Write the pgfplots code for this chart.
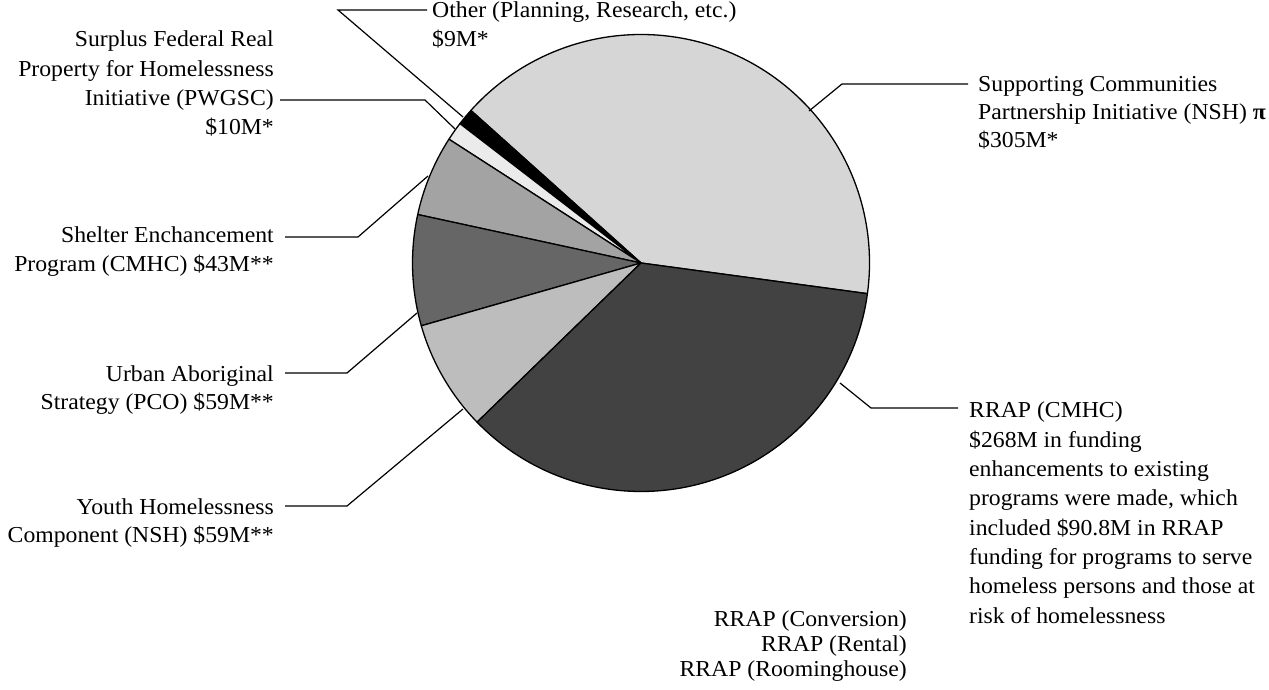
\documentclass[border=0pt]{standalone}
\usepackage{pgfplots}
\usepackage{pgfplotstable}
\pgfplotsset{compat=1.18}
\usepackage{fontspec}
\setmainfont[FakeStretch=1.04]{Liberation Serif}
\pgfplotstableread{
label value gray
Supporting 305 84
Other 9 0
Surplus 10 92
Shelter 43 64
Urban 59 40
Youth 59 74
RRAP 268 26
}\piedata
\begin{document}
\begin{tikzpicture}[font=\fontsize{22.8}{29.5}\selectfont]
\begin{axis}[at={(0,0)},anchor=south west,width=1269pt,height=690pt,scale only axis,
  xmin=0,xmax=1269,ymin=0,ymax=690,hide axis,clip=false]
\path (axis cs:0,0) rectangle (axis cs:1269,690);
\pgfplotsextra{%
  \gdef\pietotal{0}%
  \pgfplotstableforeachcolumnelement{value}\of\piedata\as\v{%
    \pgfmathsetmacro\t{\pietotal+\v}\global\let\pietotal\t}%
  \gdef\cur{-7.7}%
  \pgfplotstableforeachcolumnelement{value}\of\piedata\as\v{%
    \pgfplotstablegetelem{\pgfplotstablerow}{gray}\of\piedata
    \global\let\g\pgfplotsretval
    \pgfmathsetmacro\nxt{\cur+\v/\pietotal*360}%
    \filldraw[fill=white!\g!black,draw=black,line width=1.3pt,line join=round]
      (axis cs:641,427) -- ++(\cur:228.5pt) arc[start angle=\cur,end angle=\nxt,radius=228.5pt] -- cycle;
    \global\let\cur\nxt
  }%
}
% leader lines
\draw[line width=1.2pt] (axis cs:427,680)--(axis cs:338,680)--(axis cs:463,573);
\draw[line width=1.2pt] (axis cs:280,590)--(axis cs:425,590)--(axis cs:455,561);
\draw[line width=1.2pt] (axis cs:968,606)--(axis cs:842,606)--(axis cs:809,579);
\draw[line width=1.2pt] (axis cs:285,453)--(axis cs:358,453)--(axis cs:428,514);
\draw[line width=1.2pt] (axis cs:285,317)--(axis cs:347,317)--(axis cs:417,377);
\draw[line width=1.2pt] (axis cs:285,184)--(axis cs:347,184)--(axis cs:463,281);
\draw[line width=1.2pt] (axis cs:958,282)--(axis cs:871,282)--(axis cs:840,307);
% labels
\node[anchor=base west,inner sep=0] at (axis cs:432,672) {Other (Planning, Research, etc.)};
\node[anchor=base west,inner sep=0] at (axis cs:432,643) {\$9M*};
\node[anchor=base east,inner sep=0] at (axis cs:274,643) {Surplus Federal Real};
\node[anchor=base east,inner sep=0] at (axis cs:274,613) {Property for Homelessness};
\node[anchor=base east,inner sep=0] at (axis cs:274,584) {Initiative (PWGSC)};
\node[anchor=base east,inner sep=0] at (axis cs:274,555) {\$10M*};
\node[anchor=base west,inner sep=0] at (axis cs:978,598) {Supporting Communities};
\node[anchor=base west,inner sep=0] at (axis cs:978,570) {Partnership Initiative (NSH) \textbf{π}};
\node[anchor=base west,inner sep=0] at (axis cs:978,542) {\$305M*};
\node[anchor=base east,inner sep=0] at (axis cs:274,447) {Shelter Enchancement};
\node[anchor=base east,inner sep=0] at (axis cs:274,418) {Program (CMHC) \$43M**};
\node[anchor=base east,inner sep=0] at (axis cs:274,308) {Urban Aboriginal};
\node[anchor=base east,inner sep=0] at (axis cs:274,280) {Strategy (PCO) \$59M**};
\node[anchor=base east,inner sep=0] at (axis cs:274,175) {Youth Homelessness};
\node[anchor=base east,inner sep=0] at (axis cs:274,147) {Component (NSH) \$59M**};
\node[anchor=base west,inner sep=0] at (axis cs:969,272) {RRAP (CMHC)};
\node[anchor=base west,inner sep=0] at (axis cs:969,242.7) {\$268M in funding};
\node[anchor=base west,inner sep=0] at (axis cs:969,213.4) {enhancements to existing};
\node[anchor=base west,inner sep=0] at (axis cs:969,184.1) {programs were made, which};
\node[anchor=base west,inner sep=0] at (axis cs:969,154.8) {included \$90.8M in RRAP};
\node[anchor=base west,inner sep=0] at (axis cs:969,125.5) {funding for programs to serve};
\node[anchor=base west,inner sep=0] at (axis cs:969,96.2) {homeless persons and those at};
\node[anchor=base west,inner sep=0] at (axis cs:969,66.9) {risk of homelessness};
\node[anchor=base east,inner sep=0] at (axis cs:907,63) {RRAP (Conversion)};
\node[anchor=base east,inner sep=0] at (axis cs:907,38) {RRAP (Rental)};
\node[anchor=base east,inner sep=0] at (axis cs:907,13) {RRAP (Roominghouse)};
\end{axis}
\end{tikzpicture}
\end{document}
